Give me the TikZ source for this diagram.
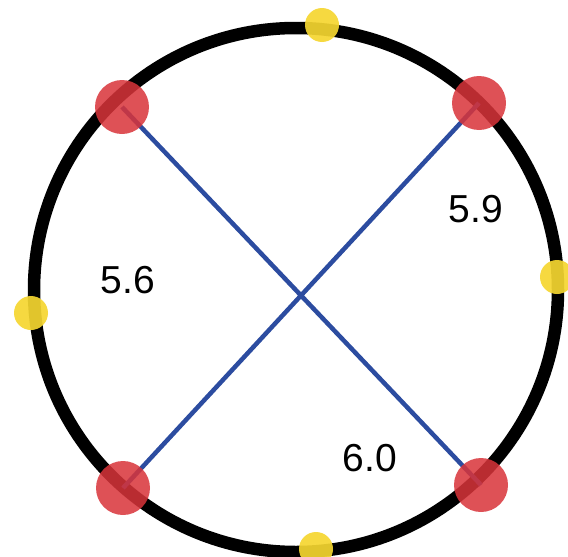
\documentclass[tikz,border=0pt]{standalone}
\usepackage{fontspec}
\setmainfont{Liberation Sans}
\usetikzlibrary{positioning}

\definecolor{dotred}{RGB}{216,52,58}
\definecolor{dotyellow}{RGB}{245,214,48}
\definecolor{chordblue}{RGB}{44,76,160}

\tikzset{
  ring/.style={line width=12.5pt, black},
  chord/.style={line width=4.5pt, chordblue},
  reddot/.style={circle, fill=dotred, fill opacity=0.86, minimum size=54pt, inner sep=0pt},
  yellowdot/.style={circle, fill=dotyellow, fill opacity=0.92, minimum size=34pt, inner sep=0pt},
  value/.style={font=\fontsize{39}{46}\selectfont}
}

\begin{document}
\begin{tikzpicture}[x=1pt, y=-1pt]
  \useasboundingbox (0,0) rectangle (568,557);

  % Punkte auf dem Kreis
  \coordinate (ctr) at (296,290);
  \coordinate (pNW) at (122,107);
  \coordinate (pNE) at (479,103);
  \coordinate (pSW) at (123,488);
  \coordinate (pSE) at (481,485);
  \coordinate (pTop) at (322,25);
  \coordinate (pLeft) at (31,313);
  \coordinate (pBottom) at (316,549);
  \coordinate (pRight) at (557,277);

  % Kreis
  \draw[ring] (ctr) circle (262);

  % Sehnen
  \draw[chord] (pNW) -- (pSE);
  \draw[chord] (pNE) -- (pSW);

  % rote Punkte
  \node[reddot] (nw) at (pNW) {};
  \node[reddot] (ne) at (pNE) {};
  \node[reddot] (sw) at (pSW) {};
  \node[reddot] (se) at (pSE) {};

  % gelbe Punkte
  \node[yellowdot] (top) at (pTop) {};
  \node[yellowdot] (left) at (pLeft) {};
  \node[yellowdot] (bottom) at (pBottom) {};
  \node[yellowdot] (right) at (pRight) {};

  % Werte
  \node[value] (v1) at (128,280) {5.6};
  \node[value] (v2) at (476,209) {5.9};
  \node[value] (v3) at (370,458) {6.0};
\end{tikzpicture}
\end{document}
